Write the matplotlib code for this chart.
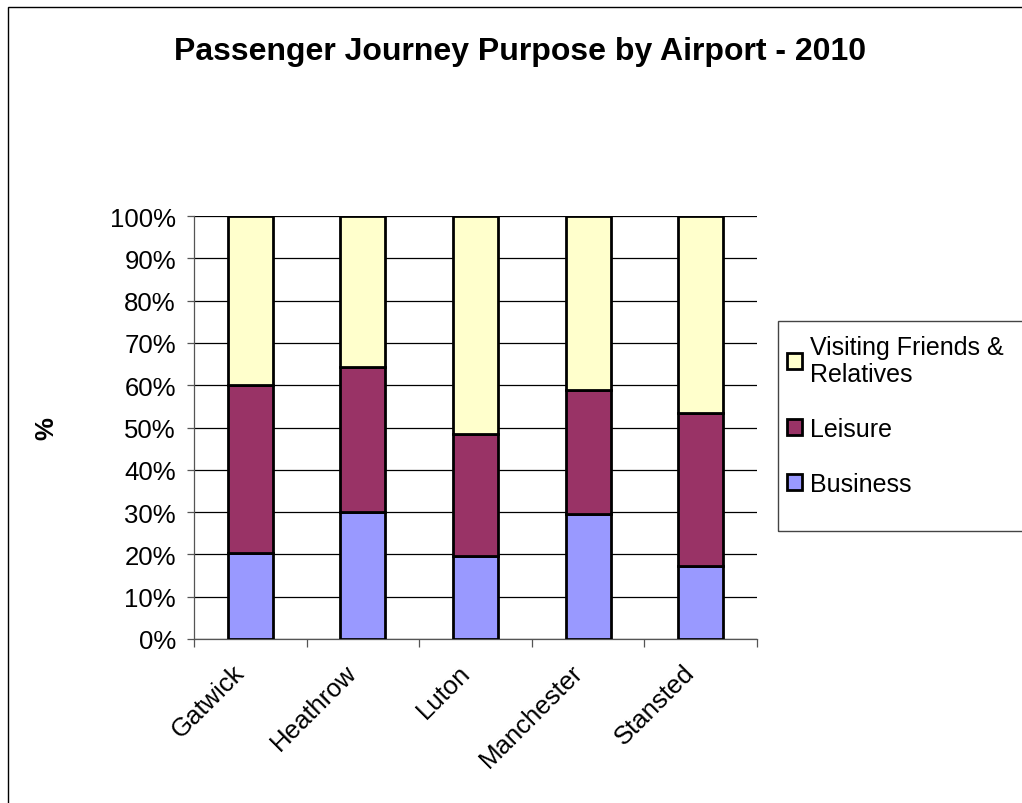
import numpy as np
import matplotlib.pyplot as plt
import matplotlib.transforms as mtransforms
from matplotlib.patches import Rectangle

plt.rcParams['font.family'] = ['Liberation Sans', 'DejaVu Sans']

# data (percent of passengers)
airports = ["Gatwick", "Heathrow", "Luton", "Manchester", "Stansted"]
business = [20.3, 30.0, 19.6, 29.5, 17.2]
leisure = [39.7, 34.4, 28.8, 29.4, 36.3]
vfr = [40.0, 35.6, 51.6, 41.1, 46.5]
yticks = list(range(0, 101, 10))

fig = plt.figure(figsize=(10.22, 8.04), dpi=100)
ax = fig.add_axes([0.1898, 0.204, 0.5509, 0.526])

x = np.arange(len(airports))
w = 0.4
b1 = ax.bar(x, business, w, color='#9999FF', edgecolor='black', lw=2, zorder=3,
            label='Business')
b2 = ax.bar(x, leisure, w, bottom=business, color='#993366', edgecolor='black', lw=2,
            zorder=3, label='Leisure')
bot = np.array(business) + np.array(leisure)
b3 = ax.bar(x, vfr, w, bottom=bot, color='#FFFFCC', edgecolor='black', lw=2, zorder=3,
            label='Visiting Friends &\nRelatives')

ax.set_xlim(-0.5, len(airports) - 0.5)
ax.set_ylim(0, 100)
ax.set_yticks(yticks)
ax.set_yticklabels(['%d%%' % v for v in yticks], fontsize=18.5)
ax.yaxis.grid(True, color='black', lw=0.9, zorder=0)
ax.tick_params(axis='y', length=5, width=0.9, color='#555555', pad=8)

# category labels in the middle, tick marks on the boundaries
ax.set_xticks(x)
ax.set_xticklabels(airports, rotation=45, ha='right', rotation_mode='anchor', fontsize=18.5)
ax.tick_params(axis='x', which='major', length=0, pad=15)
ax.set_xticks(np.arange(-0.5, len(airports)), minor=True)
ax.tick_params(axis='x', which='minor', length=6, width=0.9, color='#555555')
shift = mtransforms.ScaledTranslation(-18 / 100, 0, fig.dpi_scale_trans)
for lab in ax.get_xticklabels():
    lab.set_transform(lab.get_transform() + shift)

for s in ['top', 'right']:
    ax.spines[s].set_visible(False)
for s in ['left', 'bottom']:
    ax.spines[s].set_color('#555555')
    ax.spines[s].set_linewidth(0.9)

ax.set_ylabel('%', fontsize=18.5, fontweight='bold')
ax.yaxis.set_label_coords(-0.24, 0.5)

fig.text(0.509, 1 - 52 / 804, 'Passenger Journey Purpose by Airport - 2010',
         ha='center', va='center', fontsize=23, fontweight='bold')

leg = ax.legend(handles=[b3, b2, b1], loc='upper left',
                bbox_to_anchor=(0.753, 0.604), bbox_transform=fig.transFigure,
                frameon=False, fontsize=18, handlelength=0.6, handleheight=0.6,
                handletextpad=0.3, labelspacing=1.25, borderpad=0.2)
for t in leg.get_texts():
    t.set_linespacing(1.15)

# legend box and chart border
fig.add_artist(Rectangle((778 / 1022, 1 - 532 / 804), 0.3, 210 / 804, fill=False,
                         ec='#444444', lw=1, transform=fig.transFigure))
fig.add_artist(Rectangle((8 / 1022, -0.1), 1.2, 1.09, fill=False, ec='black', lw=1,
                         transform=fig.transFigure))

fig.savefig('out.png', dpi=100)
